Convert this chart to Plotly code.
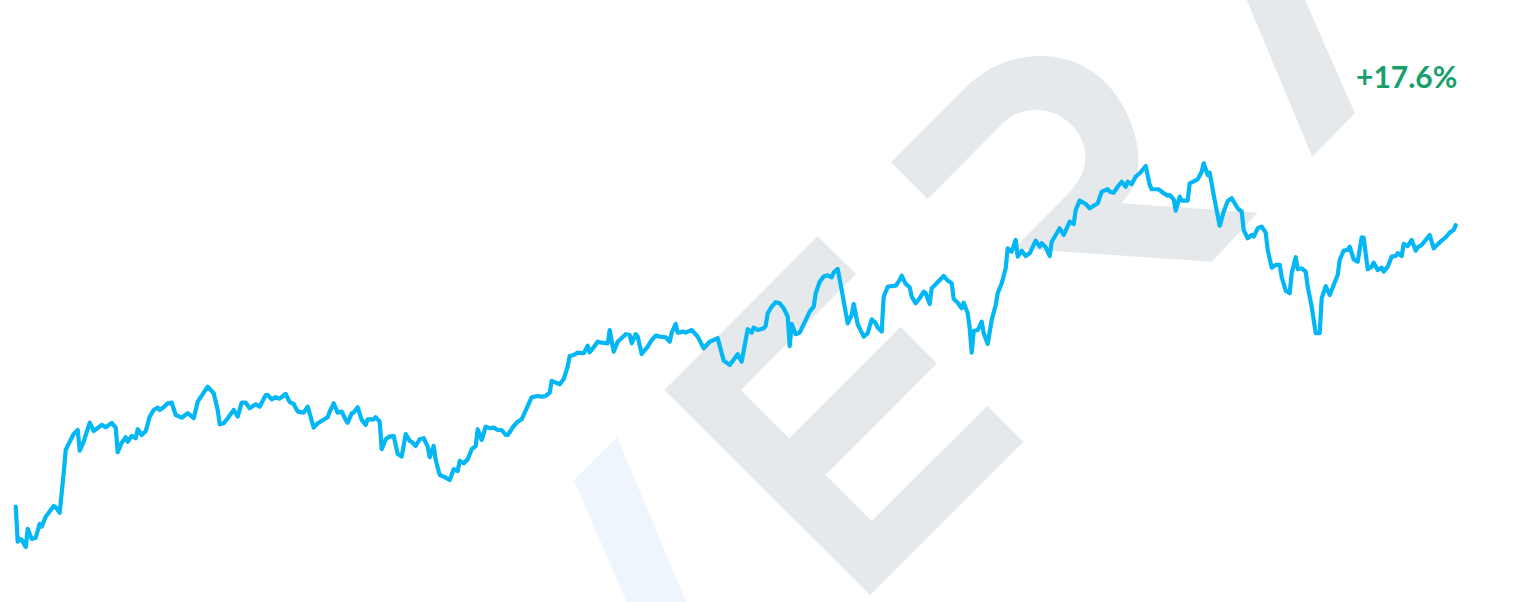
import plotly.graph_objects as go

# ---- data (cumulative return, %) ----
trading_day = [
    0, 1, 2, 3, 5, 6, 8, 10, 12, 13, 15, 17, 19, 20, 22, 24, 25, 27, 29, 31,
    32, 34, 36, 37, 39, 41, 43, 45, 48, 50, 51, 53, 55, 56, 58, 60, 61, 63, 65, 67,
    69, 71, 72, 74, 76, 78, 80, 83, 86, 87, 89, 91, 93, 96, 99, 101, 102, 104, 106, 109,
    111, 113, 115, 117, 120, 122, 125, 126, 128, 130, 132, 135, 137, 139, 141, 144, 146, 147, 149, 151,
    154, 156, 157, 159, 161, 163, 165, 166, 168, 169, 171, 173, 175, 176, 179, 180, 182,
    183, 185, 187, 189, 191, 193, 195, 197, 198, 200, 202, 204, 206, 207, 209, 210, 212, 214, 217,
    219, 221, 222, 224, 226, 228, 230, 231, 233, 235, 237, 239, 241, 243, 245, 246, 249, 251, 253, 256,
    258, 261, 263, 265, 267, 268, 271, 272, 274, 276, 277, 279, 281, 284, 286, 287, 289, 291, 293, 296,
    297, 299, 301, 303, 305, 307, 308, 310, 311, 313, 316, 318, 320, 322, 325, 327, 328, 330, 331, 334,
    335, 338, 341, 344, 347, 351, 352, 354, 357, 359, 361, 363, 365,
    366, 368, 369, 371, 374, 375, 376, 378, 380, 382, 384, 386, 387, 388, 390, 392, 394, 396, 397, 399,
    400, 402, 404, 406, 408, 409, 411, 413, 414, 416, 418, 419, 421, 422, 424, 426, 428, 430, 431, 433,
    434, 436, 439, 440, 442, 443, 445, 447, 448, 450, 452, 454, 455, 457, 458, 460, 462, 464, 466, 468,
    469, 471, 473, 474, 476, 477, 478, 479, 481, 483, 484, 486, 488, 490, 491, 493, 495, 496, 498, 500,
    501, 503, 505, 507, 509, 510, 512, 513, 515, 517, 518, 521, 522, 524, 526, 527, 529, 530, 532, 535,
    537, 539, 541, 543, 546,
    547, 549, 551, 553, 555, 556, 558, 560, 562, 563, 565, 567, 568, 571, 572, 574, 576, 577, 579, 580,
    582, 583, 586, 587, 589, 591, 593, 594, 596, 597, 599, 601, 602, 604, 606, 608, 609, 611, 613, 614,
    616, 618, 619, 621, 623, 625, 626, 628, 630, 632, 633, 635, 637, 638, 640, 641, 643, 645, 646, 648,
    650, 652, 653, 655, 657, 659, 661, 662, 664, 666, 667, 669, 671, 673, 674, 676, 678, 679, 681, 683,
    684, 686, 688, 690, 691, 693, 694, 696, 698, 700, 701, 703, 705, 707, 709, 711, 713, 715, 717, 719,
    720,
]

return_pct = [
    0.00, -2.19, -2.02, -2.08, -2.52, -1.39, -2.02, -1.94, -1.08, -1.25, -0.63, -0.25, 0.04, -0.04, -0.38, 2.11, 3.54, 4.06, 4.54, 4.79,
    3.50, 4.06, 4.75, 5.25, 4.73, 4.90, 5.11, 4.96, 5.23, 4.94, 3.40, 4.00, 4.34, 4.06, 4.42, 4.28, 4.84, 4.48, 4.71, 5.63,
    6.04, 6.19, 6.04, 6.21, 6.46, 6.50, 5.73, 5.56, 5.84, 5.75, 5.53, 6.56, 6.92, 7.50, 7.09, 6.04, 5.15, 5.21, 5.53, 6.04,
    5.63, 6.50, 6.50, 6.15, 6.40, 6.25, 6.98, 6.98, 6.71, 6.84, 6.75, 7.04, 6.53, 6.42, 5.94, 5.88, 6.25, 5.88, 4.94, 5.21,
    5.46, 5.59, 5.94, 6.46, 5.88, 5.94, 5.42, 5.25, 5.84, 5.88, 6.21, 5.42, 5.11, 5.46, 5.46, 5.59, 5.31,
    3.59, 4.21, 4.38, 4.42, 3.29, 3.13, 4.54, 4.11, 4.06, 3.79, 4.21, 4.28, 3.75, 3.09, 3.79, 2.92, 1.98, 1.88, 1.67,
    2.34, 2.23, 2.86, 2.71, 2.96, 3.59, 3.79, 4.84, 4.17, 5.00, 4.90, 4.94, 4.79, 4.79, 4.48, 4.48, 5.04, 5.31, 5.46, 6.29,
    6.84, 6.92, 6.88, 6.92, 7.13, 7.86, 7.75, 7.65, 7.98, 8.75, 9.42, 9.48, 9.63, 9.59, 10.06, 9.65, 9.96, 10.31, 10.25, 10.21,
    11.04, 9.69, 10.31, 10.59, 10.78, 10.73, 10.21, 10.78, 10.63, 9.54, 10.00, 10.42, 10.69, 10.63, 10.59, 10.31, 10.88, 11.42, 10.88, 10.94,
    10.88, 11.04, 10.63, 9.90, 10.31, 10.53, 10.11, 9.13, 8.86, 9.17, 9.53, 9.06, 10.31,
    11.09, 10.88, 11.19, 11.04, 11.15, 11.31, 12.09, 12.50, 12.78, 12.71, 12.40, 11.88, 10.04, 11.42, 10.78, 10.88, 11.36, 11.88, 12.19, 12.50,
    13.34, 14.06, 14.38, 14.46, 14.34, 14.63, 14.86, 13.54, 12.81, 11.46, 11.98, 12.67, 11.40, 11.11, 10.63, 10.84, 11.71, 11.46, 11.19, 10.94,
    13.13, 13.75, 13.79, 13.81, 14.17, 14.44, 13.92, 13.71, 13.13, 12.71, 13.03, 13.44, 13.34, 12.67, 13.65, 13.92, 14.17, 14.42, 14.13, 13.96,
    12.98, 12.75, 12.40, 12.75, 12.09, 11.15, 9.63, 10.98, 11.04, 11.56, 10.84, 10.17, 11.67, 12.61, 13.34, 13.96, 14.90, 16.15, 15.94, 16.67,
    15.63, 16.00, 15.67, 15.84, 16.36, 16.63, 16.25, 16.46, 16.21, 15.67, 16.56, 17.19, 17.40, 16.98, 17.46, 17.81, 17.67, 18.54, 19.13, 18.92,
    18.65, 18.79, 18.96, 19.69, 19.84,
    19.69, 19.63, 20.00, 20.31, 20.00, 20.31, 20.15, 20.63, 20.84, 20.98, 21.29, 20.11, 19.84, 19.84, 19.79, 19.59, 19.44, 19.48, 19.21, 18.50,
    19.38, 19.13, 19.13, 20.21, 20.31, 20.46, 20.94, 21.46, 20.73, 20.88, 19.48, 18.34, 17.56, 18.44, 19.11, 19.28, 19.03, 18.65, 18.44, 17.29,
    16.78, 16.98, 16.88, 17.40, 17.50, 17.13, 16.04, 14.94, 15.11, 15.11, 14.34, 13.50, 13.34, 14.59, 15.59, 14.84, 14.90, 14.69, 13.75, 12.50,
    10.84, 10.84, 13.03, 13.79, 13.23, 13.86, 14.48, 15.42, 16.00, 16.04, 16.25, 15.46, 15.31, 16.84, 16.81, 14.84, 15.00, 15.25, 14.79, 14.94,
    14.69, 15.00, 15.63, 15.67, 15.84, 15.67, 16.42, 16.29, 16.67, 16.00, 16.21, 16.36, 16.67, 16.98, 16.15, 16.42, 16.63, 16.84, 17.13, 17.29,
    17.60,
]

total_label = "+17.6%"

# ---- figure geometry / styles ----
W, H = 1521, 602
LINE_COLOR = "#03B6F5"
LOGO_GRAY = "#E6E9EC"
LOGO_BLUE = "#EEF5FC"
GREEN = "#17A06B"


def P(x, y):
    """pixel -> paper coordinates"""
    return f"{x / W:.5f},{1 - y / H:.5f}"


def poly(points):
    return "M " + " L ".join(P(x, y) for x, y in points) + " Z"


# watermark logo pieces (decoration)
e_shape = poly([(817.7, 236), (856, 274), (741, 390), (789.3, 438.3), (900.7, 326.7),
                (937, 363.3), (825.7, 475), (871.7, 521), (987.3, 405.7), (1023.3, 441.7),
                (870, 595), (664.3, 390)])
blue_bar = poly([(617.3, 437.3), (574, 480), (626.7, 602), (686, 602)])
slash = poly([(1246.7, 0), (1305, 0), (1355, 113.3), (1312.3, 156.7)])

two_shape = (
    "M " + P(891, 162.3) + " L " + P(963, 90) +
    " C " + P(985, 68) + " " + P(1010, 56) + " " + P(1040, 56) +
    " C " + P(1075, 56) + " " + P(1105, 73) + " " + P(1123, 106) +
    " C " + P(1135, 128) + " " + P(1140, 150) + " " + P(1138, 167) +
    " C " + P(1136, 185) + " " + P(1128, 195) + " " + P(1121.7, 203.3) +
    " L " + P(1257.7, 212.7) + " L " + P(1211.7, 261.7) + " L " + P(1014, 248.3) +
    " L " + P(1067, 195) +
    " C " + P(1077, 184) + " " + P(1086, 172) + " " + P(1085.5, 156) +
    " C " + P(1085, 132) + " " + P(1063, 110) + " " + P(1036, 110) +
    " C " + P(1021, 110) + " " + P(1009, 116) + " " + P(1000, 126) +
    " L " + P(927.7, 199) + " Z"
)

shapes = []
for path, col in [(blue_bar, LOGO_BLUE), (e_shape, LOGO_GRAY), (two_shape, LOGO_GRAY), (slash, LOGO_GRAY)]:
    shapes.append(dict(type="path", path=path, xref="paper", yref="paper",
                       fillcolor=col, line=dict(width=0), layer="below"))

fig = go.Figure()
fig.add_trace(go.Scatter(
    x=trading_day, y=return_pct, mode="lines",
    line=dict(color=LINE_COLOR, width=4.2),
    hoverinfo="skip", showlegend=False,
))

fig.update_xaxes(visible=False, range=[-7.85, 752.65], fixedrange=True)
fig.update_yaxes(visible=False, range=[-5.96, 31.67], fixedrange=True)

fig.add_annotation(
    text=total_label, xref="paper", yref="paper",
    x=1459 / W, y=1 - 76 / H, xanchor="right", yanchor="middle",
    showarrow=False,
    font=dict(family="Lato", size=30, color=GREEN, weight=700),
)

fig.update_layout(
    width=W, height=H,
    margin=dict(l=0, r=0, t=0, b=0),
    paper_bgcolor="white", plot_bgcolor="white",
    shapes=shapes,
)

fig.write_html(
    "out.html",
    config={"displayModeBar": False, "staticPlot": True},
    post_script=(
        "document.body.style.margin='0';document.body.style.overflow='hidden';"
        "document.querySelectorAll('.js-line').forEach(function(p){"
        "p.style.strokeLinejoin='round';p.style.strokeLinecap='round';});"
    ),
)
